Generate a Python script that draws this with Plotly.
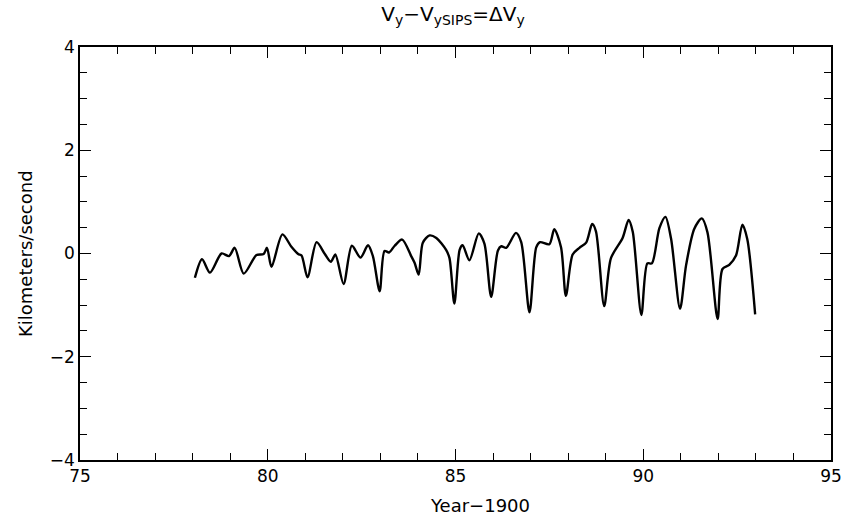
import plotly.graph_objects as go

year = [78.06, 78.25, 78.46, 78.77, 78.97, 79.12, 79.36, 79.70, 79.89, 79.98,
        80.10, 80.39, 80.63, 80.81, 80.90, 81.06, 81.30, 81.52, 81.68, 81.80,
        82.02, 82.24, 82.47, 82.67, 82.80, 82.98, 83.11, 83.23, 83.38, 83.58,
        83.82, 83.91, 84.02, 84.13, 84.31, 84.49, 84.75, 84.84, 84.97, 85.11,
        85.19, 85.37, 85.62, 85.77, 85.95, 86.13, 86.22, 86.35, 86.61, 86.75,
        86.97, 87.15, 87.25, 87.50, 87.63, 87.81, 87.94, 88.12, 88.30, 88.48,
        88.64, 88.74, 88.96, 89.14, 89.45, 89.61, 89.72, 89.95, 90.11, 90.23,
        90.43, 90.59, 90.74, 90.98, 91.14, 91.36, 91.56, 91.71, 91.98, 92.11,
        92.29, 92.47, 92.64, 92.77, 92.98]
dvy = [-0.47, -0.11, -0.37, 0.00, -0.05, 0.11, -0.39, -0.03, -0.01, 0.11,
       -0.26, 0.37, 0.13, -0.01, -0.04, -0.46, 0.22, -0.01, -0.16, -0.02,
       -0.59, 0.15, -0.08, 0.16, -0.05, -0.73, 0.05, 0.02, 0.15, 0.27,
       -0.05, -0.18, -0.41, 0.21, 0.35, 0.30, 0.07, -0.09, -0.97, 0.07,
       0.16, -0.13, 0.39, 0.19, -0.84, 0.06, 0.14, 0.11, 0.40, 0.22,
       -1.14, 0.12, 0.22, 0.18, 0.47, 0.12, -0.82, -0.02, 0.11, 0.21,
       0.57, 0.43, -1.02, -0.09, 0.30, 0.65, 0.42, -1.19, -0.19, -0.19,
       0.49, 0.71, 0.29, -1.07, -0.23, 0.48, 0.68, 0.41, -1.27, -0.30,
       -0.22, -0.04, 0.56, 0.28, -1.18]

x_ticks = [75, 80, 85, 90, 95]
y_ticks = [-4, -2, 0, 2, 4]

fig = go.Figure()
fig.add_trace(go.Scatter(
    x=year, y=dvy, mode="lines",
    line=dict(color="black", width=2.4, shape="spline", smoothing=0.8),
    showlegend=False, hoverinfo="skip",
))

font_family = "DejaVu Sans, Arial, sans-serif"

axis_common = dict(
    showgrid=False, zeroline=False, automargin=False,
    showline=True, linecolor="black", linewidth=1.5, mirror="allticks",
    ticks="inside", ticklen=11, tickwidth=1.2, tickcolor="black",
    tickfont=dict(family=font_family, size=17, color="black"),
)

fig.update_layout(
    width=844, height=525,
    paper_bgcolor="white", plot_bgcolor="white",
    margin=dict(l=80, r=13, t=47, b=65),
    title=dict(
        text="V<sub>y</sub>−V<sub>ySIPS</sub>=ΔV<sub>y</sub>",
        x=453 / 844, xanchor="center", y=1 - 14 / 525, yanchor="middle",
        font=dict(family=font_family, size=20, color="black"),
    ),
    xaxis=dict(
        range=[75, 95], tickvals=x_ticks,
        minor=dict(dtick=1, ticks="inside", ticklen=7, tickcolor="black", tickwidth=1),
        **axis_common,
    ),
    yaxis=dict(
        range=[-4, 4], tickvals=y_ticks,
        minor=dict(dtick=0.5, ticks="inside", ticklen=7, tickcolor="black", tickwidth=1),
        **axis_common,
    ),
    annotations=[
        dict(text="Year−1900", xref="paper", yref="paper",
             x=(480 - 80) / (844 - 80 - 13), y=-(505 - 460) / (525 - 47 - 65),
             xanchor="center", yanchor="middle", showarrow=False,
             font=dict(family=font_family, size=18, color="black")),
        dict(text="Kilometers/second", xref="paper", yref="paper",
             x=-(80 - 25) / (844 - 80 - 13), y=(460 - 254) / (525 - 47 - 65),
             xanchor="center", yanchor="middle", showarrow=False, textangle=-90,
             font=dict(family=font_family, size=18, color="black")),
    ],
)

fig.write_html("out.html", config={"displayModeBar": False},
               post_script="document.body.style.margin='0';")
